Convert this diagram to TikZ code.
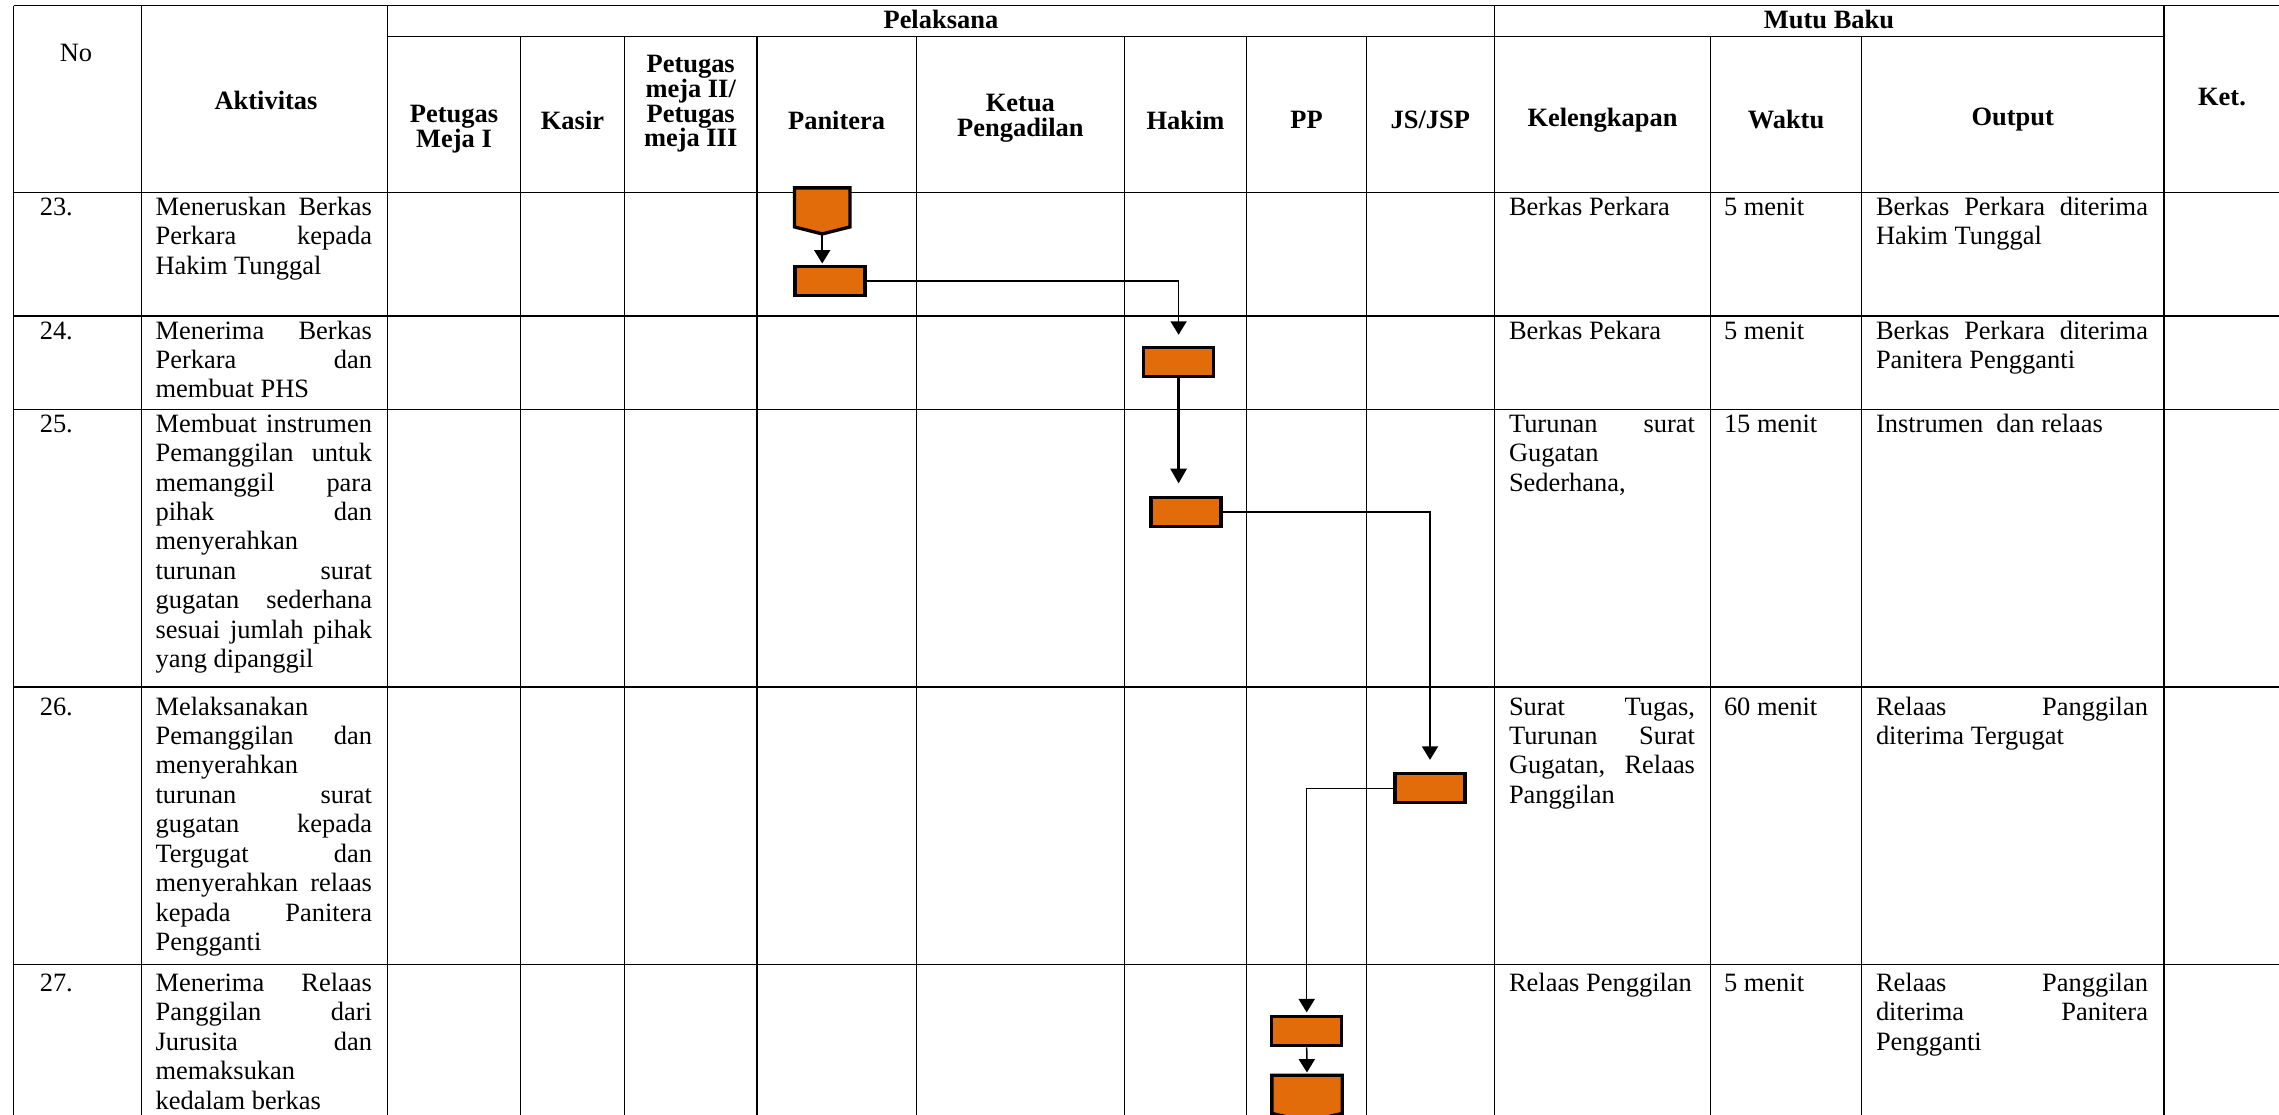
\documentclass[tikz,border=0pt]{standalone}
\usepackage{fontspec}
\setmainfont{Liberation Serif}
\usetikzlibrary{arrows.meta,calc}
\definecolor{shapeorange}{HTML}{E36C0A}
\newlength\pxu
\setlength\pxu{0.4537pt}
\newcommand\actJ[1]{\makebox[216.4\pxu][s]{\strut #1}}
\newcommand\actL[1]{\makebox[216.4\pxu][l]{\strut #1}}
\newcommand\kelJ[1]{\makebox[186\pxu][s]{\strut #1}}
\newcommand\kelL[1]{\makebox[186\pxu][l]{\strut #1}}
\newcommand\outJ[1]{\makebox[272\pxu][s]{\strut #1}}
\newcommand\outL[1]{\makebox[272\pxu][l]{\strut #1}}
\newcommand\oneL[1]{\strut #1}
\begin{document}
\begin{tikzpicture}[x=0.4537pt, y=-0.4537pt,
  grid/.style={line width=0.6pt, black},
  body/.style={anchor=north west, inner sep=0pt, outer sep=0pt, align=left,
    font={\fontsize{12}{13.34}\selectfont}},
  head/.style={inner sep=0pt, outer sep=0pt, align=center,
    font={\bfseries\fontsize{12}{11.2}\selectfont\lineskiplimit=-20pt}},
  pbox/.style={draw=black, line width=1.5pt, fill=shapeorange,
    minimum width=31.76pt, minimum height=13.16pt, inner sep=0pt},
  pshape/.style={draw=black, line width=1.5pt, fill=shapeorange, line join=miter},
  conn/.style={line width=0.68pt, -{Triangle[length=6.1pt,width=7.3pt]}},
  thickconn/.style={line width=1.36pt, -{Triangle[length=6.8pt,width=7.3pt]}}
]
\useasboundingbox (0,0) rectangle (2279,1115);
\clip (0,0) rectangle (2279,1115);
\fill[white] (0,0) rectangle (2279,1115);

% ---------------- table rules ----------------
\draw[grid] (13.8,5.7) -- (2279,5.7);
\draw[grid] (387.8,36.3) -- (2163.9,36.3);
\foreach \yy in {192.3,316,409.3,687.1,964.5}
  \draw[grid] (13.8,\yy) -- (2279,\yy);
\foreach \xx in {13.8,141.3,387.8,1494.2,2163.9}
  \draw[grid] (\xx,5.7) -- (\xx,1115);
\foreach \xx in {520.4,624.5,757,916.3,1124.5,1246.5,1366.5,1710.7,1861.5}
  \draw[grid] (\xx,36.3) -- (\xx,1115);

% ---------------- header ----------------
\node[inner sep=0pt, font={\fontsize{12}{13.8}\selectfont}] (hNo) at (76,53.3) {No};
\node[head] (hAkt) at (266,100) {Aktivitas};
\node[head] (hPel) at (940.9,19) {Pelaksana};
\node[head] (hMutu) at (1829,19) {Mutu Baku};
\node[head] (hKet) at (2222,97) {Ket.};
\node[head] (hPM1) at (454,129) {Petugas\\Meja I};
\node[head] (hKas) at (572.5,120) {Kasir};
\node[head] (hPM2) at (690.7,104) {Petugas\\meja II/\\Petugas\\meja III};
\node[head] (hPan) at (836.6,120) {Panitera};
\node[head] (hKetua) at (1020.4,118) {Ketua\\Pengadilan};
\node[head] (hHak) at (1185.5,120) {Hakim};
\node[head] (hPP) at (1306.5,120) {PP};
\node[head] (hJS) at (1430.3,120) {JS/JSP};
\node[head] (hKel) at (1602.5,120) {Kelengkapan};
\node[head] (hWak) at (1786,120) {Waktu};
\node[head] (hOut) at (2012.7,120) {Output};

% ---------------- row 23 ----------------
\node[body] (n23) at (39.8,194.8) {\oneL{23.}};
\node[body] (a23) at (155.6,194.8) {\actJ{Meneruskan Berkas}\\\actJ{Perkara kepada}\\\actL{Hakim Tunggal}};
\node[body] (k23) at (1509,194.8) {\kelL{Berkas Perkara}};
\node[body] (w23) at (1724,194.8) {\oneL{5 menit}};
\node[body] (o23) at (1876,194.8) {\outJ{Berkas Perkara diterima}\\\outL{Hakim Tunggal}};

% ---------------- row 24 ----------------
\node[body] (n24) at (39.8,318.5) {\oneL{24.}};
\node[body] (a24) at (155.6,318.5) {\actJ{Menerima Berkas}\\\actJ{Perkara dan}\\\actL{membuat PHS}};
\node[body] (k24) at (1509,318.5) {\kelL{Berkas Pekara}};
\node[body] (w24) at (1724,318.5) {\oneL{5 menit}};
\node[body] (o24) at (1876,318.5) {\outJ{Berkas Perkara diterima}\\\outL{Panitera Pengganti}};

% ---------------- row 25 ----------------
\node[body] (n25) at (39.8,411.8) {\oneL{25.}};
\node[body] (a25) at (155.6,411.8) {\actJ{Membuat instrumen}\\\actJ{Pemanggilan untuk}\\\actJ{memanggil para}\\\actJ{pihak dan}\\\actL{menyerahkan}\\\actJ{turunan surat}\\\actJ{gugatan sederhana}\\\actJ{sesuai jumlah pihak}\\\actL{yang dipanggil}};
\node[body] (k25) at (1509,411.8) {\kelJ{Turunan surat}\\\kelL{Gugatan}\\\kelL{Sederhana,}};
\node[body] (w25) at (1724,411.8) {\oneL{15 menit}};
\node[body] (o25) at (1876,411.8) {\outL{Instrumen~ dan relaas}};

% ---------------- row 26 ----------------
\node[body] (n26) at (39.8,694.6) {\oneL{26.}};
\node[body] (a26) at (155.6,694.6) {\actL{Melaksanakan}\\\actJ{Pemanggilan dan}\\\actL{menyerahkan}\\\actJ{turunan surat}\\\actJ{gugatan kepada}\\\actJ{Tergugat dan}\\\actJ{menyerahkan relaas}\\\actJ{kepada Panitera}\\\actL{Pengganti}};
\node[body] (k26) at (1509,694.6) {\kelJ{Surat Tugas,}\\\kelJ{Turunan Surat}\\\kelJ{Gugatan, Relaas}\\\kelL{Panggilan}};
\node[body] (w26) at (1724,694.6) {\oneL{60 menit}};
\node[body] (o26) at (1876,694.6) {\outJ{Relaas Panggilan}\\\outL{diterima Tergugat}};

% ---------------- row 27 ----------------
\node[body] (n27) at (39.8,971) {\oneL{27.}};
\node[body] (a27) at (155.6,971) {\actJ{Menerima Relaas}\\\actJ{Panggilan dari}\\\actJ{Jurusita dan}\\\actL{memaksukan}\\\actL{kedalam berkas}};
\node[body] (k27) at (1509,971) {\kelL{Relaas Penggilan}};
\node[body] (w27) at (1724,971) {\oneL{5 menit}};
\node[body] (o27) at (1876,971) {\outJ{Relaas Panggilan}\\\outJ{diterima Panitera}\\\outL{Pengganti}};

% ---------------- flow shapes ----------------
\node[inner sep=0pt, minimum width=24.77pt, minimum height=20.51pt] (p1) at (822.2,210.9) {};
\filldraw[pshape] (p1.north west) -- (p1.north east) -- ($(p1.south east)+(0,-7)$)
  -- (p1.south) -- ($(p1.south west)+(0,-7)$) -- cycle;
\node[pbox] (r1) at (830.1,281.2) {};
\node[pbox] (r2) at (1178.6,361.9) {};
\node[pbox] (r3) at (1186,512) {};
\node[pbox] (r4) at (1430,788.3) {};
\node[pbox] (r5) at (1306.7,1031.2) {};
\node[inner sep=0pt, minimum width=31.49pt, minimum height=20.6pt] (p6) at (1307,1098.3) {};
\filldraw[pshape] (p6.north west) -- (p6.north east) -- ($(p6.south east)+(0,-8)$)
  -- (p6.south) -- ($(p6.south west)+(0,-8)$) -- cycle;

% ---------------- connectors ----------------
\draw[conn, shorten >=0.7pt] (p1.south) -- (p1.south |- r1.north);
\draw[conn, shorten >=5pt] (r1.east) -| (r2.north);
\draw[thickconn, shorten >=5.6pt] (r2.south) -- (r2.south |- r3.north);
\draw[conn, shorten >=5.6pt] (r3.east) -| (r4.north);
\draw[conn, shorten >=1.2pt] (r4.west) -| (r5.north);
\draw[conn, shorten >=1.2pt] (r5.south) -- (p6.north);
\end{tikzpicture}
\end{document}
